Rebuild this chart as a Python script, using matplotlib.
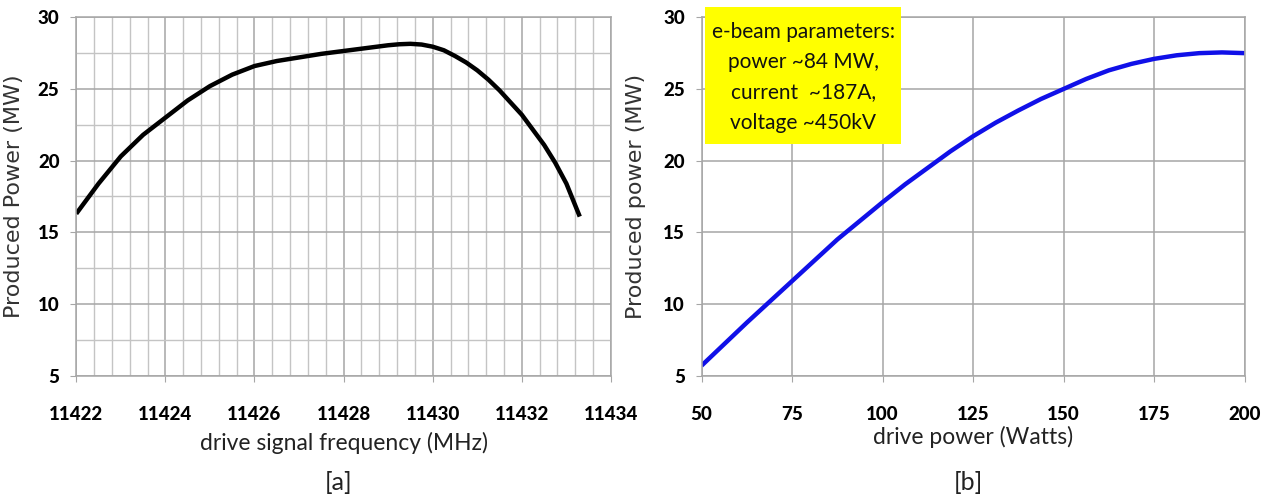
import matplotlib
matplotlib.use("Agg")
import matplotlib.pyplot as plt
from matplotlib.patches import Rectangle
from matplotlib.ticker import MultipleLocator

# [a] produced power vs drive signal frequency
freq_mhz = [11422.0, 11422.5, 11423.0, 11423.5, 11424.0, 11424.5, 11425.0,
            11425.5, 11426.0, 11426.5, 11427.0, 11427.5, 11428.0, 11428.5,
            11429.0, 11429.25, 11429.5, 11429.75, 11430.0, 11430.25, 11430.5,
            11430.75, 11431.0, 11431.25, 11431.5, 11432.0, 11432.5, 11432.75,
            11433.0, 11433.3]
power_a = [16.3, 18.4, 20.3, 21.8, 23.0, 24.2, 25.2, 26.0, 26.6, 26.95, 27.2,
           27.45, 27.65, 27.85, 28.05, 28.12, 28.15, 28.1, 27.95, 27.7, 27.3,
           26.85, 26.3, 25.65, 24.9, 23.2, 21.1, 19.85, 18.4, 16.1]

# [b] produced power vs drive power
drive_w = [50, 56.25, 62.5, 68.75, 75, 81.25, 87.5, 93.75, 100, 106.25, 112.5,
           118.75, 125, 131.25, 137.5, 143.75, 150, 156.25, 162.5, 168.75,
           175, 181.25, 187.5, 193.75, 200]
power_b = [5.7, 7.2, 8.7, 10.15, 11.6, 13.05, 14.5, 15.8, 17.1, 18.35, 19.5,
           20.65, 21.7, 22.65, 23.5, 24.3, 25.0, 25.7, 26.3, 26.75, 27.1,
           27.35, 27.5, 27.55, 27.5]

xticks_a = [11422, 11424, 11426, 11428, 11430, 11432, 11434]
xticks_b = [50, 75, 100, 125, 150, 175, 200]
yticks = [5, 10, 15, 20, 25, 30]
box_lines = ["e-beam parameters:", "power ~84 MW,", "current  ~187A,", "voltage ~450kV"]

narrow = ["Lato", "DejaVu Sans"]
major_c = "#a6a6a6"
minor_c = "#c4c4c4"

fig = plt.figure(figsize=(12.67, 5), dpi=100)
ax1 = fig.add_axes([0.0602, 0.2486, 0.422, 0.7168])
ax2 = fig.add_axes([0.5537, 0.2486, 0.4286, 0.7168])


def style(ax, xticks):
    ax.set_ylim(5, 30)
    ax.set_xlim(xticks[0], xticks[-1])
    ax.set_xticks(xticks)
    ax.set_yticks(yticks)
    ax.grid(True, which="major", color=major_c, linewidth=1.1)
    for s in ax.spines.values():
        s.set_color(major_c)
        s.set_linewidth(1.1)
    ax.tick_params(axis="both", which="major", length=4, color=major_c,
                   labelsize=13.5)
    ax.tick_params(axis="x", pad=18)
    ax.tick_params(axis="y", pad=8)
    for lab in ax.get_xticklabels() + ax.get_yticklabels():
        lab.set_fontfamily(narrow)
        lab.set_fontweight("black")
    ax.set_axisbelow(True)


style(ax1, xticks_a)
ax1.xaxis.set_minor_locator(MultipleLocator(0.4))
ax1.yaxis.set_minor_locator(MultipleLocator(2.5))
ax1.grid(True, which="minor", color=minor_c, linewidth=1.0)
ax1.tick_params(which="minor", length=0)
ax1.plot(freq_mhz, power_a, color="black", linewidth=3.2, solid_capstyle="butt")
ax1.set_xlabel("drive signal frequency (MHz)", fontsize=16.5, family=narrow,
               color="#222222", labelpad=6)
ax1.set_ylabel("Produced Power (MW)", fontsize=16, color="#333333", labelpad=10)

style(ax2, xticks_b)
ax2.plot(drive_w, power_b, color="#1010e8", linewidth=3.2, solid_capstyle="butt")
ax2.set_xlabel("drive power (Watts)", fontsize=16.5, family=narrow,
               color="#222222", labelpad=2)
ax2.set_ylabel("Produced power (MW)", fontsize=16, color="#333333", labelpad=12)

ax2.add_patch(Rectangle((0.006, 0.646), 0.361, 0.383, transform=ax2.transAxes,
                        facecolor="#ffff00", edgecolor="none", clip_on=False,
                        zorder=5))
ax2.text(0.187, 0.833, "\n".join(box_lines), transform=ax2.transAxes,
         ha="center", va="center", fontsize=15, family=narrow,
         linespacing=1.65, color="#111111", zorder=6)

fig.text(0.2675, 0.034, "[a]", ha="center", va="center", fontsize=18,
         family=narrow, color="#222222")
fig.text(0.764, 0.034, "[b]", ha="center", va="center", fontsize=18,
         family=narrow, color="#222222")

fig.savefig("out.png", dpi=100)
